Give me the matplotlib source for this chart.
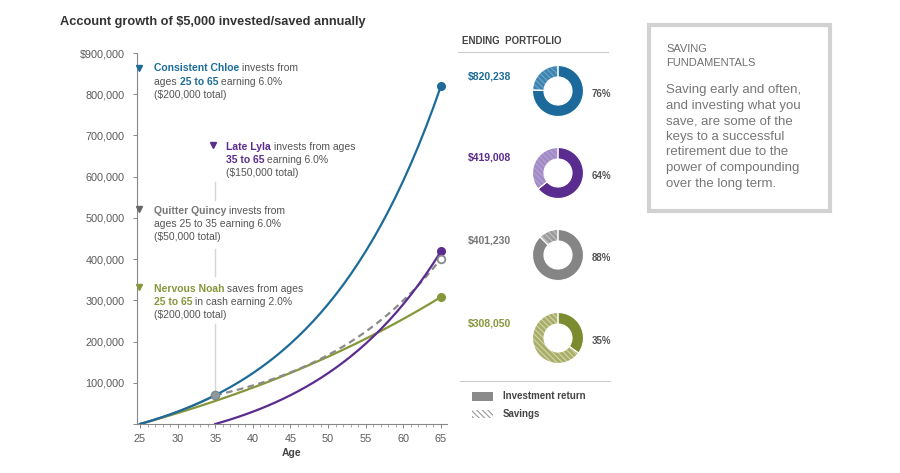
import matplotlib
matplotlib.use("Agg")
import matplotlib.pyplot as plt
from matplotlib.patches import Rectangle
from matplotlib.lines import Line2D
from matplotlib.transforms import blended_transform_factory

plt.rcParams['font.family'] = ['Liberation Sans', 'DejaVu Sans']
plt.rcParams['hatch.linewidth'] = 0.8

# ---------------- data ----------------
ages = list(range(25, 66))
chloe = [0, 5300, 10918, 16873, 23185, 29877, 36969, 44487, 52457, 60904, 69858,
         79350, 89411, 100076, 111381, 123364, 136066, 149530, 163802, 178930, 194966,
         211964, 229982, 249081, 269326, 290786, 313533, 337645, 363204, 390296, 419014,
         449455, 481722, 515925, 552181, 590612, 631349, 674530, 720302, 768820, 820238]
lyla_ages = list(range(35, 66))
lyla = [0, 5300, 10918, 16873, 23185, 29877, 36969, 44487, 52457, 60904, 69858,
        79350, 89411, 100076, 111381, 123364, 136066, 149530, 163802, 178930, 194966,
        211964, 229982, 249081, 269326, 290786, 313533, 337645, 363204, 390296, 419008]
quincy_active_ages = list(range(25, 36))
quincy_active = [0, 5300, 10918, 16873, 23185, 29877, 36969, 44487, 52457, 60904, 69858]
quincy_idle_ages = list(range(35, 66))
quincy_idle = [69858, 74049, 78492, 83202, 88194, 93486, 99095, 105041, 111343, 118024,
               125105, 132611, 140568, 149002, 157942, 167419, 177464, 188112, 199398,
               211362, 224044, 237486, 251736, 266840, 282850, 299821, 317810, 336879,
               357092, 378517, 401230]
noah = [0, 5100, 10302, 15608, 21020, 26540, 32171, 37914, 43772, 49747, 55842,
        62059, 68400, 74868, 81465, 88194, 95058, 102059, 109200, 116484, 123914,
        131492, 139222, 147106, 155148, 163351, 171718, 180252, 188957, 197836, 206893,
        216131, 225554, 235165, 244968, 254967, 265166, 275569, 286180, 297004, 308050]

xtick_values = [25, 30, 35, 40, 45, 50, 55, 60, 65]
ytick_values = [0, 100000, 200000, 300000, 400000, 500000, 600000, 700000, 800000, 900000]
ytick_labels = ["", "100,000", "200,000", "300,000", "400,000", "500,000",
                "600,000", "700,000", "800,000", "$900,000"]

ending_values = [820238, 419008, 401230, 308050]
savings_totals = [200000, 150000, 50000, 200000]
ending_labels = ["$820,238", "$419,008", "$401,230", "$308,050"]
return_pct_labels = ["76%", "64%", "88%", "35%"]

# ---------------- style ----------------
BLUE = '#1d6b98'
PURPLE = '#5b2c8f'
GRAY = '#8a8a8a'
OLIVE = '#86973a'
TXT = '#555555'
solid_colors = ['#1b6a9b', '#5b2c8f', '#858585', '#7b8b30']
light_colors = ['#3f85b2', '#a28bc6', '#9c9c9c', '#a9ad6a']
hatch_colors = ['#6fa3c8', '#b4a2d4', '#c2c2c2', '#d3d5a8']
label_colors = [BLUE, PURPLE, '#777777', OLIVE]

W, H = 900, 473
fig = plt.figure(figsize=(W / 100, H / 100), dpi=100)
fig.patch.set_facecolor('white')


def fx(x):
    return x / W


def fy(y):
    return 1 - y / H


# ---------------- main chart ----------------
ax = fig.add_axes([fx(137), fy(424), 310 / W, (424 - 53) / H])
ax.set_xlim(24.6, 65.8)
ax.set_ylim(0, 900000)
for s in ['top', 'right']:
    ax.spines[s].set_visible(False)
for s in ['left', 'bottom']:
    ax.spines[s].set_color('#888888')
    ax.spines[s].set_linewidth(0.8)

ax.set_xticks(xtick_values)
ax.set_xticks(ages, minor=True)
ax.set_yticks(ytick_values)
ax.set_yticklabels(ytick_labels)
ax.tick_params(axis='both', labelsize=7.8, labelcolor='#5a5a5a', color='#888888',
               length=3, width=0.7, direction='out')
ax.tick_params(axis='x', which='minor', length=2, width=0.6, color='#999999')
ax.tick_params(axis='y', pad=6)
ax.tick_params(axis='x', pad=4)
ax.set_xlabel("Age", fontsize=7.5, fontweight='bold', color='#444444', labelpad=3)

# guide line at age 35 (broken behind the annotation text)
blend = blended_transform_factory(ax.transData, fig.transFigure)
for y0, y1 in [(182, 200), (249, 276), (324, 394)]:
    ax.plot([quincy_idle_ages[0], quincy_idle_ages[0]], [fy(y0), fy(y1)],
            color='#d6d6d6', lw=1.0, transform=blend, zorder=0, clip_on=False)

ax.plot(ages, noah, color=OLIVE, lw=1.6, zorder=2)
ax.plot(quincy_active_ages, quincy_active, color=GRAY, lw=1.6, zorder=2)
ax.plot(quincy_idle_ages, quincy_idle, color=GRAY, lw=1.6, ls=(0, (3, 2)), zorder=3)
ax.plot(lyla_ages, lyla, color=PURPLE, lw=1.6, zorder=3)
ax.plot(ages, chloe, color=BLUE, lw=1.6, zorder=4)

ax.plot([ages[-1]], [chloe[-1]], 'o', color=BLUE, ms=5.5, zorder=5, clip_on=False)
ax.plot([lyla_ages[-1]], [lyla[-1]], 'o', color=PURPLE, ms=5.5, zorder=5, clip_on=False)
ax.plot([quincy_idle_ages[-1]], [quincy_idle[-1]], 'o', mfc='white', mec=GRAY, mew=1.3,
        ms=5.5, zorder=5, clip_on=False)
ax.plot([ages[-1]], [noah[-1]], 'o', color=OLIVE, ms=5.5, zorder=5, clip_on=False)
ax.plot([quincy_idle_ages[0]], [quincy_idle[0]], 'o', color='#8f9a9f', mec='#7d8a90',
        ms=6, zorder=6)

# ---------------- annotations ----------------
FS = 7.5


def rich(x, y, parts):
    prev = None
    for txt, color, bold in parts:
        kw = dict(fontsize=FS, color=color, fontweight='bold' if bold else 'normal',
                  zorder=7)
        if prev is None:
            prev = fig.text(fx(x), fy(y), txt, ha='left', va='baseline', **kw)
        else:
            prev = ax.annotate(txt, xy=(1, 0), xycoords=prev, ha='left', va='bottom',
                               annotation_clip=False, **kw)


def tri(x, y, color):
    fig.add_artist(Line2D([fx(x)], [fy(y)], marker='v', color=color, ms=5,
                          transform=fig.transFigure, zorder=8))


tri(139, 68, BLUE)
rich(154, 71, [("Consistent Chloe", BLUE, True), (" invests from", TXT, False)])
rich(154, 85, [("ages ", TXT, False), ("25 to 65", BLUE, True), (" earning 6.0%", TXT, False)])
rich(154, 98, [("($200,000 total)", TXT, False)])

tri(213, 145, PURPLE)
rich(226, 150, [("Late Lyla", PURPLE, True), (" invests from ages", TXT, False)])
rich(226, 163, [("35 to 65", PURPLE, True), (" earning 6.0%", TXT, False)])
rich(226, 176, [("($150,000 total)", TXT, False)])

tri(139, 209, '#666666')
rich(154, 214, [("Quitter Quincy", '#777777', True), (" invests from", TXT, False)])
rich(154, 227, [("ages 25 to 35 earning 6.0%", TXT, False)])
rich(154, 240, [("($50,000 total)", TXT, False)])

tri(139, 287, OLIVE)
rich(154, 292, [("Nervous Noah", OLIVE, True), (" saves from ages", TXT, False)])
rich(154, 305, [("25 to 65", OLIVE, True), (" in cash earning 2.0%", TXT, False)])
rich(154, 318, [("($200,000 total)", TXT, False)])

# title
fig.text(fx(60), fy(22), "Account growth of $5,000 invested/saved annually",
         fontsize=9.2, fontweight='bold', color='#333333', ha='left', va='center')

# ---------------- ending portfolio ----------------
fig.text(fx(462), fy(41), "ENDING  PORTFOLIO", fontsize=7, fontweight='bold',
         color='#444444', ha='left', va='center')
fig.add_artist(Line2D([fx(458), fx(608)], [fy(52), fy(52)], color='#cccccc', lw=0.8,
                      transform=fig.transFigure))
fig.add_artist(Line2D([fx(460), fx(610)], [fy(381), fy(381)], color='#cccccc', lw=0.8,
                      transform=fig.transFigure))

donut_cy = [91, 173, 255, 338]
R = 26
for i in range(4):
    cx, cy = 558, donut_cy[i]
    dax = fig.add_axes([fx(cx - R), fy(cy + R), 2 * R / W, 2 * R / H])
    ret = ending_values[i] - savings_totals[i]
    sav = savings_totals[i]
    wedges, _ = dax.pie([ret, sav], startangle=90, counterclock=False, radius=1,
                        wedgeprops=dict(width=0.45, linewidth=0))
    wedges[0].set_facecolor(solid_colors[i])
    wedges[1].set_facecolor(light_colors[i])
    wedges[1].set_edgecolor(hatch_colors[i])
    wedges[1].set_hatch('\\' * 6)
    wedges[1].set_linewidth(0)
    dax.pie([ret, sav], startangle=90, counterclock=False, radius=1,
            wedgeprops=dict(width=0.45, facecolor='none', edgecolor='white', linewidth=0.8))
    dax.set_xlim(-1.02, 1.02)
    dax.set_ylim(-1.02, 1.02)
    dax.set_aspect('equal')
    dax.axis('off')
    fig.text(fx(468), fy(cy - 15), ending_labels[i], fontsize=7.5, fontweight='bold',
             color=label_colors[i], ha='left', va='center')
    fig.text(fx(592), fy(cy + 3), return_pct_labels[i], fontsize=7, fontweight='bold',
             color='#555555', ha='left', va='center')

# legend
fig.add_artist(Rectangle((fx(472), fy(401)), 21 / W, 9 / H, facecolor='#8a8a8a',
                         edgecolor='none', transform=fig.transFigure))
fig.text(fx(503), fy(396), "Investment return", fontsize=7, fontweight='bold',
         color='#444444', ha='left', va='center')
fig.add_artist(Rectangle((fx(472), fy(418)), 21 / W, 8 / H, facecolor='white',
                         edgecolor='#9a9a9a', hatch='\\' * 6, linewidth=0,
                         transform=fig.transFigure))
fig.text(fx(503), fy(414), "Savings", fontsize=7, fontweight='bold',
         color='#444444', ha='left', va='center')

# ---------------- side box ----------------
fig.add_artist(Rectangle((fx(649), fy(211)), (830 - 649) / W, (211 - 25) / H,
                         facecolor='white', edgecolor='#d2d2d2', linewidth=3,
                         transform=fig.transFigure))
fig.text(fx(666), fy(49), "SAVING", fontsize=8, color='#707070', ha='left', va='center')
fig.text(fx(666), fy(63), "FUNDAMENTALS", fontsize=8, color='#707070', ha='left', va='center')
body = ["Saving early and often,", "and investing what you", "save, are some of the",
        "keys to a successful", "retirement due to the", "power of compounding",
        "over the long term."]
for k, line in enumerate(body):
    fig.text(fx(666), fy(90 + k * 15.6), line, fontsize=9.5, color='#777777',
             ha='left', va='center')

fig.savefig("out.png", dpi=100, facecolor='white')
